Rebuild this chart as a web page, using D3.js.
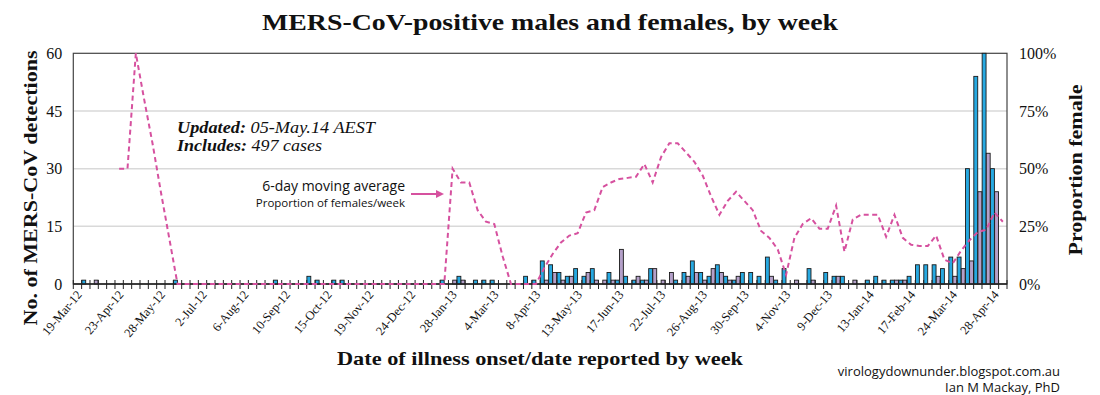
<!DOCTYPE html>
<html><head><meta charset="utf-8">
<script src="https://cdn.jsdelivr.net/npm/d3@7"></script>
<style>body{margin:0;background:#fff} svg{display:block}</style>
</head><body><svg id="c" width="1100" height="395"></svg>
<script>
const weeks = ["19-Mar-12","26-Mar-12","2-Apr-12","9-Apr-12","16-Apr-12","23-Apr-12","30-Apr-12","7-May-12","14-May-12","21-May-12","28-May-12","4-Jun-12","11-Jun-12","18-Jun-12","25-Jun-12","2-Jul-12","9-Jul-12","16-Jul-12","23-Jul-12","30-Jul-12","6-Aug-12","13-Aug-12","20-Aug-12","27-Aug-12","3-Sep-12","10-Sep-12","17-Sep-12","24-Sep-12","1-Oct-12","8-Oct-12","15-Oct-12","22-Oct-12","29-Oct-12","5-Nov-12","12-Nov-12","19-Nov-12","26-Nov-12","3-Dec-12","10-Dec-12","17-Dec-12","24-Dec-12","31-Dec-12",
"7-Jan-13","14-Jan-13","21-Jan-13","28-Jan-13","4-Feb-13","11-Feb-13","18-Feb-13","25-Feb-13","4-Mar-13","11-Mar-13","18-Mar-13","25-Mar-13","1-Apr-13","8-Apr-13","15-Apr-13","22-Apr-13","29-Apr-13","6-May-13","13-May-13","20-May-13","27-May-13","3-Jun-13","10-Jun-13","17-Jun-13","24-Jun-13","1-Jul-13","8-Jul-13","15-Jul-13","22-Jul-13","29-Jul-13","5-Aug-13","12-Aug-13","19-Aug-13","26-Aug-13","2-Sep-13","9-Sep-13","16-Sep-13","23-Sep-13","30-Sep-13","7-Oct-13","14-Oct-13","21-Oct-13","28-Oct-13","4-Nov-13","11-Nov-13","18-Nov-13","25-Nov-13","2-Dec-13","9-Dec-13","16-Dec-13","23-Dec-13","30-Dec-13",
"6-Jan-14","13-Jan-14","20-Jan-14","27-Jan-14","3-Feb-14","10-Feb-14","17-Feb-14","24-Feb-14","3-Mar-14","10-Mar-14","17-Mar-14","24-Mar-14","31-Mar-14","7-Apr-14","14-Apr-14","21-Apr-14","28-Apr-14","5-May-14"];

const tickLabels = ["19-Mar-12","23-Apr-12","28-May-12","2-Jul-12","6-Aug-12","10-Sep-12","15-Oct-12","19-Nov-12","24-Dec-12","28-Jan-13","4-Mar-13","8-Apr-13","13-May-13","17-Jun-13","22-Jul-13","26-Aug-13","30-Sep-13","4-Nov-13","9-Dec-13","13-Jan-14","17-Feb-14","24-Mar-14","28-Apr-14"];

const males = [
0,1,0,0,0,0,0,0,0,0,
0,0,1,0,0,0,0,0,0,0,
0,0,0,0,1,0,0,0,2,1,
0,1,1,0,0,0,0,0,0,0,
0,0,0,0,1,0,2,0,1,1,
1,0,0,0,2,1,6,5,3,2,
4,2,4,0,3,1,2,1,1,4,
0,0,1,3,6,3,2,5,2,1,
3,3,2,7,1,4,0,0,4,0,
3,2,2,0,0,1,2,1,1,1,
2,5,5,5,4,7,7,30,54,60,
30,0];

const females = [
0,0,1,0,0,0,0,0,0,0,
0,0,0,0,0,0,0,0,0,0,
0,0,0,0,0,0,0,0,0,0,
0,0,0,0,0,0,0,0,0,0,
0,0,0,0,0,1,1,0,0,0,
0,0,0,0,0,0,1,3,1,2,
0,3,1,1,1,9,0,2,1,4,
1,3,0,2,3,1,4,3,1,2,
0,0,0,2,0,0,1,0,1,0,
0,2,0,1,0,0,0,0,1,1,
0,0,0,2,0,2,4,6,24,34,
24,0];

const propFemale = [
null,null,null,null,null,50,50,100,80,61,
40,20,0,0,0,0,0,0,0,0,
0,0,0,0,0,0,0,0,0,0,
0,0,0,0,0,0,0,0,0,0,
0,0,0,0,0,50,44,44,32,27,
26,12,0,0,0,0,7,13,18,21,
22,31,32,42,44,45.5,46,46.5,52,44,
55,61,61,57,53,47,38,30,36,40,
36,32,23,20,15,4,20,26,28.5,24,
24,34,14,28,30,30,30,20.5,30,20,
17,16.5,16.5,21,10.5,9,14.5,19,22.5,23.5,
31,27];

const leftTicks = [0,15,30,45,60];
const rightTicks = [0,25,50,75,100];

const serif = "'Liberation Serif', 'DejaVu Serif', serif";
const sans = "'Open Sans', 'Noto Sans', sans-serif";
const maleColor = "#27a9e1", femaleColor = "#b4a0c9", lineColor = "#d6519f";

const M = {left:73.3, right:1007, top:53.3, bottom:284};
const svg = d3.select('#c');

const x = d3.scaleBand().domain(weeks).range([M.left, M.right]).padding(0);
const xs = d3.scaleBand().domain(['m','f']).range([0, x.bandwidth()]).paddingInner(0.05).paddingOuter(0.04);
const y = d3.scaleLinear().domain([0,60]).range([M.bottom, M.top]);
const y2 = d3.scaleLinear().domain([0,100]).range([M.bottom, M.top]);

// gridlines
svg.append('g').selectAll('line').data(leftTicks.filter(d=>d>0 && d<60)).join('line')
  .attr('x1', M.left).attr('x2', M.right).attr('y1', d=>y(d)).attr('y2', d=>y(d))
  .attr('stroke', '#d9d9d9').attr('stroke-width', 1.5);

// frame
svg.append('rect').attr('x', M.left).attr('y', M.top).attr('width', M.right-M.left).attr('height', M.bottom-M.top)
  .attr('fill','none').attr('stroke','#444').attr('stroke-width',1.2);

// bars
const rows = weeks.map((w,i)=>({w, m:males[i], f:females[i]}));
const gB = svg.append('g');
gB.selectAll('rect.m').data(rows.filter(d=>d.m>0)).join('rect').attr('class','m')
  .attr('x', d=>x(d.w)+xs('m')).attr('width', xs.bandwidth())
  .attr('y', d=>y(d.m)).attr('height', d=>y(0)-y(d.m))
  .attr('fill', maleColor).attr('stroke','#1a1a1a').attr('stroke-width',0.9);
gB.selectAll('rect.f').data(rows.filter(d=>d.f>0)).join('rect').attr('class','f')
  .attr('x', d=>x(d.w)+xs('f')).attr('width', xs.bandwidth())
  .attr('y', d=>y(d.f)).attr('height', d=>y(0)-y(d.f))
  .attr('fill', femaleColor).attr('stroke','#1a1a1a').attr('stroke-width',0.9);

// x axis line + boundary ticks
svg.append('line').attr('x1',M.left).attr('x2',M.right).attr('y1',M.bottom).attr('y2',M.bottom)
  .attr('stroke','#222').attr('stroke-width',1.5);
const bounds = weeks.map(w=>x(w)).concat([x(weeks[weeks.length-1])+x.bandwidth()]);
svg.append('g').selectAll('line').data(bounds).join('line')
  .attr('x1',d=>d).attr('x2',d=>d).attr('y1',M.bottom-4).attr('y2',M.bottom+5)
  .attr('stroke','#222').attr('stroke-width',1);

// x tick labels
const xAxis = d3.axisBottom(x).tickValues(tickLabels).tickSize(0);
const gx = svg.append('g').attr('transform',`translate(0,${M.bottom})`).call(xAxis);
gx.select('.domain').remove();
gx.selectAll('text').attr('x',0).attr('y',0).attr('dy',0)
  .attr('transform','translate(5,11) rotate(-50)')
  .style('text-anchor','end').style('font-family',serif).style('font-size','12.5px').attr('fill','#111');

// left axis
const gl = svg.append('g').attr('transform',`translate(${M.left},0)`)
  .call(d3.axisLeft(y).tickValues(leftTicks).tickSize(0).tickPadding(11));
gl.select('.domain').remove();
gl.selectAll('text').style('font-family',serif).style('font-size','16px').attr('fill','#111');

// right axis
const gr = svg.append('g').attr('transform',`translate(${M.right},0)`)
  .call(d3.axisRight(y2).tickValues(rightTicks).tickSize(0).tickPadding(12).tickFormat(d=>d+'%'));
gr.select('.domain').remove();
gr.selectAll('text').style('font-family',serif).style('font-size','16px').attr('fill','#111');

// moving average line
const line = d3.line().defined(d=>d.v!=null)
  .x(d=>x(d.w)+x.bandwidth()/2).y(d=>y2(d.v));
svg.append('path').datum(weeks.map((w,i)=>({w, v:propFemale[i]})))
  .attr('d', line).attr('fill','none').attr('stroke',lineColor)
  .attr('stroke-width',2).attr('stroke-dasharray','5,3.5');

// titles
svg.append('text').attr('x',550).attr('y',30).attr('text-anchor','middle')
  .style('font-family',serif).style('font-weight','bold').style('font-size','24px')
  .attr('textLength',576).attr('lengthAdjust','spacingAndGlyphs').attr('fill','#111')
  .text('MERS-CoV-positive males and females, by week');

svg.append('text').attr('transform','translate(37,188) rotate(-90)').attr('text-anchor','middle')
  .style('font-family',serif).style('font-weight','bold').style('font-size','19px')
  .attr('textLength',275).attr('lengthAdjust','spacingAndGlyphs').attr('fill','#111')
  .text('No. of MERS-CoV detections');

svg.append('text').attr('transform','translate(1082,170) rotate(-90)').attr('text-anchor','middle')
  .style('font-family',serif).style('font-weight','bold').style('font-size','19px')
  .attr('textLength',171).attr('lengthAdjust','spacingAndGlyphs').attr('fill','#111')
  .text('Proportion female');

svg.append('text').attr('x',540).attr('y',365).attr('text-anchor','middle')
  .style('font-family',serif).style('font-weight','bold').style('font-size','19px')
  .attr('textLength',406).attr('lengthAdjust','spacingAndGlyphs').attr('fill','#111')
  .text('Date of illness onset/date reported by week');

// annotations
const t1 = svg.append('text').attr('x',177).attr('y',133)
  .style('font-family',serif).style('font-style','italic').style('font-size','17px')
  .attr('textLength',198).attr('lengthAdjust','spacingAndGlyphs').attr('fill','#111');
t1.append('tspan').style('font-weight','bold').text('Updated:');
t1.append('tspan').text(' 05-May.14 AEST');
const t2 = svg.append('text').attr('x',177).attr('y',151)
  .style('font-family',serif).style('font-style','italic').style('font-size','17px')
  .attr('textLength',145).attr('lengthAdjust','spacingAndGlyphs').attr('fill','#111');
t2.append('tspan').style('font-weight','bold').text('Includes:');
t2.append('tspan').text(' 497 cases');

svg.append('text').attr('x',405).attr('y',190.5).attr('text-anchor','end')
  .style('font-family',sans).style('font-size','14px').attr('fill','#111')
  .text('6-day moving average');
svg.append('text').attr('x',405).attr('y',207).attr('text-anchor','end')
  .style('font-family',sans).style('font-size','11.5px').attr('fill','#111')
  .text('Proportion of females/week');

// arrow
svg.append('line').attr('x1',411).attr('x2',437).attr('y1',194).attr('y2',194)
  .attr('stroke',lineColor).attr('stroke-width',2);
svg.append('path').attr('d','M436,190 L444,194 L436,198 Z').attr('fill',lineColor);

// credits
svg.append('text').attr('x',1060).attr('y',376).attr('text-anchor','end')
  .style('font-family',sans).style('font-size','13px').attr('fill','#111')
  .text('virologydownunder.blogspot.com.au');
svg.append('text').attr('x',1060).attr('y',392).attr('text-anchor','end')
  .style('font-family',sans).style('font-size','13px').attr('fill','#111')
  .text('Ian M Mackay, PhD');
</script>
</body></html>
